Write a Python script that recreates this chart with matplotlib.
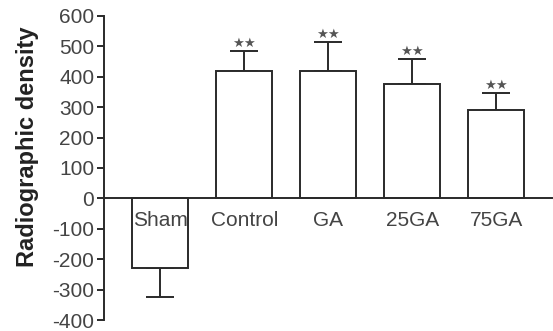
import numpy as np
import matplotlib.pyplot as plt

plt.rcParams['font.family'] = ['Liberation Sans', 'DejaVu Sans']
plt.rcParams['axes.unicode_minus'] = False

groups = ['Sham', 'Control', 'GA', '25GA', '75GA']
density = [-228, 420, 420, 375, 292]
sem = [97, 63, 93, 83, 53]
marks = ['', '★★', '★★', '★★', '★★']

vals = np.array(density)
err = np.array(sem)
lower = np.where(vals < 0, err, 0)
upper = np.where(vals >= 0, err, 0)
x = np.arange(len(groups))

fig = plt.figure(figsize=(5.53, 3.31), dpi=100)
ax = fig.add_axes([0.188, 0.033, 0.81, 0.919])

line_c = '#2a2a2a'
text_c = '#444444'

ax.bar(x, vals, width=0.665, color='white', edgecolor=line_c, linewidth=1.4, zorder=1)
ax.errorbar(x, vals, yerr=[lower, upper], fmt='none', ecolor=line_c,
            elinewidth=1.4, capsize=10, capthick=1.4, zorder=0.9)
ax.set_axisbelow(False)

# significance marks just above each cap
for xi, v, up, m in zip(x, vals, upper, marks):
    if m:
        ax.text(xi, v + up + 5, m, ha='center', va='bottom', fontsize=9.5,
                color='#555555', family='DejaVu Sans')

ax.set_xlim(-0.67, 4.66)
ax.set_ylim(-400, 600)
ax.set_yticks(np.arange(-400, 601, 100))
ax.set_xticks(x)
ax.set_xticklabels(groups)

ax.spines['top'].set_visible(False)
ax.spines['right'].set_visible(False)
ax.spines['bottom'].set_position(('data', 0))
for s in ['left', 'bottom']:
    ax.spines[s].set_color(line_c)
    ax.spines[s].set_linewidth(1.4)

ax.tick_params(axis='x', length=0, pad=9, labelsize=15, labelcolor=text_c)
ax.tick_params(axis='y', length=5, width=1.4, color=line_c, pad=2, labelsize=15, labelcolor=text_c)
ax.set_ylabel('Radiographic density', fontsize=17, fontweight='bold', color='#222222')
ax.yaxis.set_label_coords(-0.145, 0.57)

fig.savefig('out.png', dpi=100)
